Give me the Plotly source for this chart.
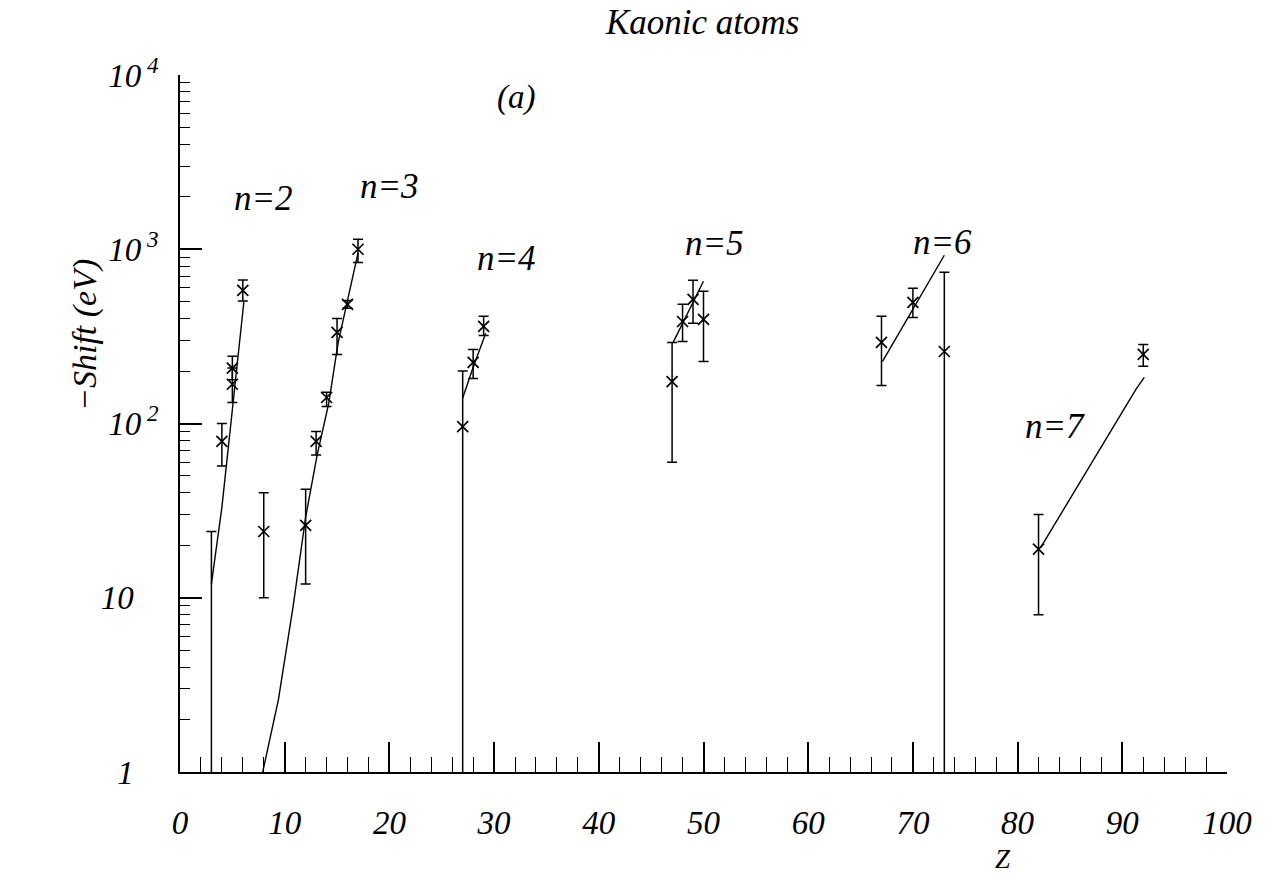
import plotly.graph_objects as go

# ---- data ----
z_data = [4, 5, 5, 6, 8, 12, 13, 14, 15, 16, 17, 27, 28, 29, 47, 48, 49, 50, 67, 70, 73, 82, 92]
shift = [79, 208, 168, 580, 24, 26, 79, 141, 333, 483, 1000, 96, 224, 361, 174, 385, 516, 396, 292, 496, 259, 19, 249]
err_plus = [21, 35, 40, 85, 16, 16, 11, 10, 68, 25, 140, 104, 42, 51, 118, 98, 148, 178, 120, 101, 479, 11, 35]
err_minus = [22, 30, 36, 75, 14, 14, 13, 16, 84, 25, 160, 95.2, 43, 41, 114, 89, 140, 169, 127, 90, 258.2, 11, 36]

# Li point: error bar only (central value below the axis)
z_bar_only = [3]
shift_bar_only = [0.8]
err_plus_bar_only = [23.2]

# fitted curves for each n
curve_n2_z = [3.0, 4.0, 5.0, 6.1]
curve_n2_y = [12, 33, 120, 500]
curve_n3_z = [7.9, 9.4, 10.8, 12.0, 13.1, 14.2, 15.1, 16.0, 17.0]
curve_n3_y = [1, 2.6, 8.9, 29, 66, 130, 290, 520, 950]
curve_n4_z = [27.0, 28.0, 29.2]
curve_n4_y = [140, 210, 330]
curve_n5_z = [47.1, 50.0]
curve_n5_y = [292, 655]
curve_n6_z = [67.1, 73.0]
curve_n6_y = [227, 924]
curve_n7_z = [82.2, 91.3, 92.1]
curve_n7_y = [19.4, 157, 184]

curve_labels = ["n=2", "n=3", "n=4", "n=5", "n=6", "n=7"]

x_ticks = [0, 10, 20, 30, 40, 50, 60, 70, 80, 90, 100]
y_ticks = [1, 10, 100, 1000, 10000]
y_ticktext = ["1\u00a0\u2007", "10\u00a0\u2007", "10<sup>\u00a02</sup>", "10<sup>\u00a03</sup>", "10<sup>\u00a04</sup>"]

FONT = "Liberation Serif"
W, H = 1271, 873
ML, MR, MT, MB = 180, 44, 75, 101

def px(x, y):
    return (x - ML) / (W - ML - MR), (H - MB - y) / (H - MT - MB)

fig = go.Figure()

curves = [(curve_n2_z, curve_n2_y), (curve_n3_z, curve_n3_y), (curve_n4_z, curve_n4_y),
          (curve_n5_z, curve_n5_y), (curve_n6_z, curve_n6_y), (curve_n7_z, curve_n7_y)]
for (cz, cy), name in zip(curves, curve_labels):
    fig.add_trace(go.Scatter(x=cz, y=cy, mode="lines", line=dict(color="black", width=1.4),
                             name=name, showlegend=False, hoverinfo="skip"))

fig.add_trace(go.Scatter(
    x=z_bar_only, y=shift_bar_only, mode="markers",
    marker=dict(symbol="x-thin", size=10, line=dict(color="black", width=1.5), color="black"),
    error_y=dict(type="data", symmetric=False, array=err_plus_bar_only, arrayminus=[0],
                 color="black", thickness=1.5, width=5),
    cliponaxis=True, showlegend=False))

fig.add_trace(go.Scatter(
    x=z_data, y=shift, mode="markers",
    marker=dict(symbol="x-thin", size=11, line=dict(color="black", width=1.7), color="black"),
    error_y=dict(type="data", symmetric=False, array=err_plus, arrayminus=err_minus,
                 color="black", thickness=1.5, width=5),
    cliponaxis=True, showlegend=False))

annos = []
def add_text(text, x, y, size=34, angle=0):
    ax, ay = px(x, y)
    annos.append(dict(text=text, x=ax, y=ay, xref="paper", yref="paper", showarrow=False,
                      xanchor="center", yanchor="middle", textangle=angle,
                      font=dict(family=FONT, size=size, color="black", style="italic")))

add_text("Kaonic atoms", 702, 22, size=35)
add_text("(a)", 516, 98, size=33)
label_pos = [(263, 198), (389, 186), (506, 258), (714, 243), (942, 242), (1055, 426)]
for t, (lx, ly) in zip(curve_labels, label_pos):
    add_text(t, lx, ly, size=35)
add_text("\u2212Shift (eV)", 85, 335, size=34, angle=-90)
add_text("Z", 1003, 859, size=27)

fig.update_layout(
    width=W, height=H,
    margin=dict(l=ML, r=MR, t=MT, b=MB),
    paper_bgcolor="white", plot_bgcolor="white",
    font=dict(family=FONT, size=33, color="black", style="italic"),
    annotations=annos,
    showlegend=False,
)
fig.update_xaxes(
    range=[0, 100], showgrid=False, zeroline=False,
    showline=True, linecolor="black", linewidth=1.8,
    ticks="inside", tickvals=x_ticks, ticktext=[str(v) for v in x_ticks],
    ticklen=30, tickwidth=1.5, tickcolor="black", ticklabelstandoff=20,
    minor=dict(ticks="inside", dtick=2, ticklen=15, tickwidth=1.3, tickcolor="black"),
    tickfont=dict(family=FONT, size=33, color="black", style="italic"),
)
fig.update_yaxes(
    type="log", range=[0, 4], showgrid=False, zeroline=False,
    showline=True, linecolor="black", linewidth=1.8,
    ticks="inside", tickvals=y_ticks, ticktext=y_ticktext,
    ticklen=22, tickwidth=1.5, tickcolor="black", ticklabelstandoff=13,
    minor=dict(ticks="inside", dtick="D1", ticklen=10, tickwidth=1.2, tickcolor="black"),
    tickfont=dict(family=FONT, size=33, color="black", style="italic"),
)

fig.write_html("out.html")
